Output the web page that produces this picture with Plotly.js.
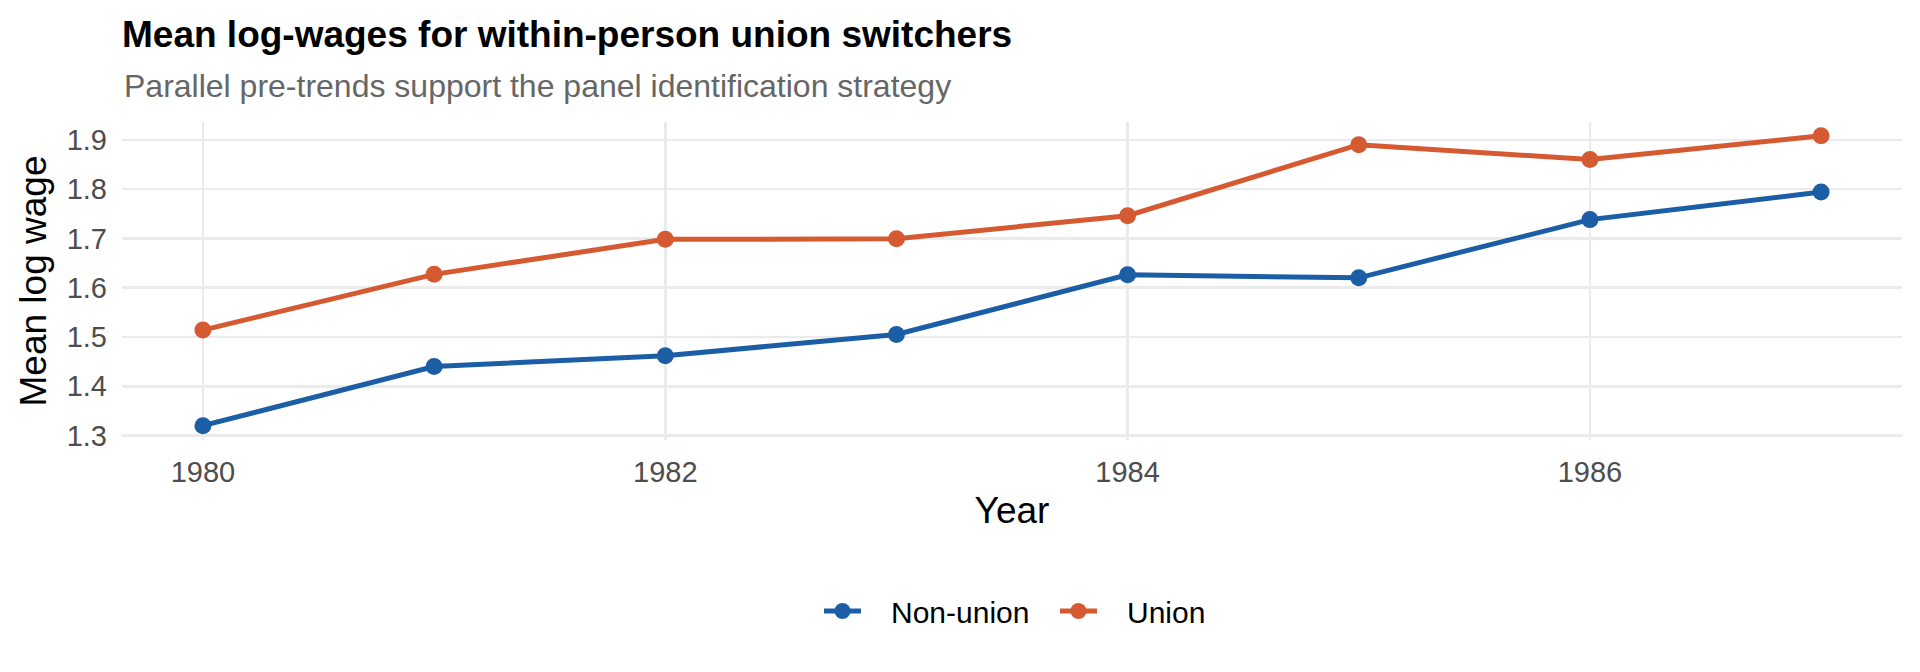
<!DOCTYPE html>
<html>
<head>
<meta charset="utf-8">
<script src="https://cdn.plot.ly/plotly-3.0.1.min.js"></script>
<style>
  html, body { margin: 0; padding: 0; background: #fff; }
  #chart { width: 1920px; height: 672px; }
</style>
</head>
<body>
<div id="chart"></div>
<script>
// values
var years = [1980, 1981, 1982, 1983, 1984, 1985, 1986, 1987];
var nonUnion = [1.320, 1.440, 1.462, 1.505, 1.626, 1.620, 1.738, 1.794];
var union = [1.514, 1.627, 1.698, 1.699, 1.746, 1.890, 1.860, 1.908];
var seriesNames = ['Non-union', 'Union'];
var seriesColors = ['#1B5EA6', '#D65A31'];
var yTicks = [1.3, 1.4, 1.5, 1.6, 1.7, 1.8, 1.9];
var xTicks = [1980, 1982, 1984, 1986];

var font = 'Liberation Sans, Arial, Helvetica, sans-serif';
var pad = '\u00A0\u00A0\u00A0'; // gap between legend key and label

function makeTrace(y, i) {
  return {
    type: 'scatter',
    mode: 'lines+markers',
    x: years,
    y: y,
    name: pad + seriesNames[i],
    line: { color: seriesColors[i], width: 5 },
    marker: { color: seriesColors[i], size: 17 }
  };
}

var data = [makeTrace(nonUnion, 0), makeTrace(union, 1)];

var layout = {
  width: 1920,
  height: 672,
  paper_bgcolor: '#fff',
  plot_bgcolor: '#fff',
  margin: { l: 122, r: 18, t: 122, b: 232, autoexpand: false },
  font: { family: font, color: '#000' },
  title: {
    text: '<b>Mean log-wages for within-person union switchers</b>',
    font: { family: font, size: 37, color: '#000' },
    xref: 'paper', x: 0, xanchor: 'left',
    yref: 'container', y: 1 - 34 / 672, yanchor: 'middle'
  },
  annotations: [{
    text: 'Parallel pre-trends support the panel identification strategy',
    xref: 'paper', x: 0, xanchor: 'left',
    yref: 'paper', y: (440 - 86) / 318, yanchor: 'middle',
    showarrow: false,
    font: { family: font, size: 32, color: '#666666' }
  }],
  xaxis: {
    range: [1979.65, 1987.35],
    tickvals: xTicks,
    ticktext: xTicks.map(String),
    showgrid: true,
    gridcolor: '#EBEBEB',
    gridwidth: 2.5,
    zeroline: false,
    showline: false,
    ticks: '',
    ticklabelstandoff: 12,
    tickfont: { family: font, size: 29, color: '#4D4D4D' },
    title: { text: 'Year', font: { family: font, size: 37, color: '#000' }, standoff: 10 }
  },
  yaxis: {
    range: [1.291, 1.936],
    tickvals: yTicks,
    ticktext: yTicks.map(function (v) { return v.toFixed(1); }),
    showgrid: true,
    gridcolor: '#EBEBEB',
    gridwidth: 2.5,
    zeroline: false,
    showline: false,
    ticks: '',
    ticklabelstandoff: 14,
    tickfont: { family: font, size: 29, color: '#4D4D4D' },
    title: { text: 'Mean log wage', font: { family: font, size: 37, color: '#000' }, standoff: 8 }
  },
  showlegend: true,
  legend: {
    orientation: 'h',
    x: (819 - 122) / 1780, xanchor: 'left',
    y: (440 - 611) / 318, yanchor: 'middle',
    font: { family: font, size: 30, color: '#000' },
    itemwidth: 37,
    entrywidth: 184,
    bgcolor: 'rgba(0,0,0,0)'
  }
};

Plotly.newPlot('chart', data, layout, { displayModeBar: false, staticPlot: true });
</script>
</body>
</html>
